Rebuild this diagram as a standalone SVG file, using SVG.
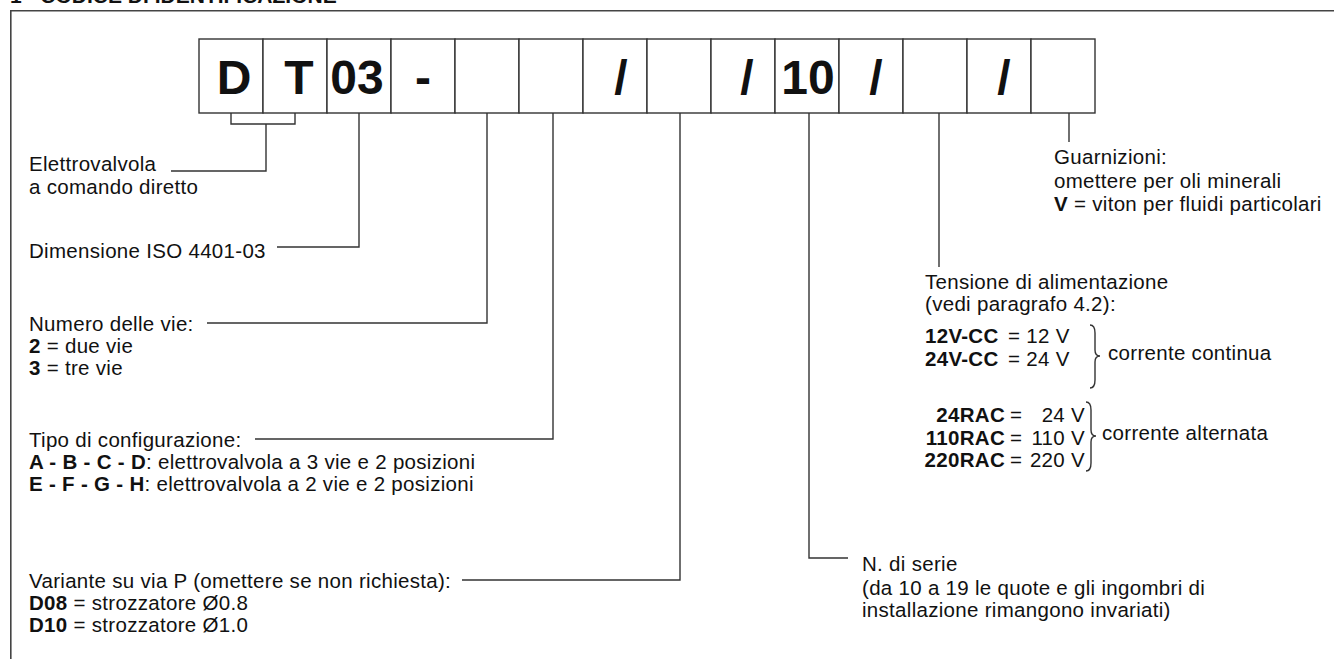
<svg xmlns="http://www.w3.org/2000/svg" width="1334" height="659" viewBox="0 0 1334 659">
<style>
text{font-family:"Liberation Sans",Arial,Helvetica,sans-serif;fill:#111}
.t{font-size:20.5px;letter-spacing:0.3px}
.b{font-weight:bold}
.big{font-size:48px;font-weight:bold;text-anchor:middle}
.e{text-anchor:end}
.ln{fill:none;stroke:#333;stroke-width:1.4}
.box{fill:#fff;stroke:#333;stroke-width:1.4}
.fr{fill:none;stroke:#444;stroke-width:1.6}
</style>
<rect width="1334" height="659" fill="#fff"/>
<text x="10" y="3" style="font-size:21px;font-weight:bold">1 - CODICE DI IDENTIFICAZIONE</text>
<path class="fr" d="M10.8,659 V10.8 H1334"/>

<g id="code">
<g id="box-D"><rect class="box" x="199" y="39" width="64" height="74"/><text class="big" x="234" y="94">D</text></g>
<g id="box-T"><rect class="box" x="263" y="39" width="64" height="74"/><text class="big" x="299" y="94">T</text></g>
<g id="box-03"><rect class="box" x="327" y="39" width="64" height="74"/><text class="big" x="357" y="94">03</text></g>
<g id="box-dash"><rect class="box" x="391" y="39" width="64" height="74"/><text class="big" x="423" y="94">-</text></g>
<g id="box-vie"><rect class="box" x="455" y="39" width="64" height="74"/></g>
<g id="box-config"><rect class="box" x="519" y="39" width="64" height="74"/></g>
<g id="box-slash1"><rect class="box" x="583" y="39" width="64" height="74"/><text class="big" x="621" y="94">/</text></g>
<g id="box-variante"><rect class="box" x="647" y="39" width="64" height="74"/></g>
<g id="box-slash2"><rect class="box" x="711" y="39" width="64" height="74"/><text class="big" x="747" y="94">/</text></g>
<g id="box-10"><rect class="box" x="775" y="39" width="64" height="74"/><text class="big" x="808" y="94">10</text></g>
<g id="box-slash3"><rect class="box" x="839" y="39" width="64" height="74"/><text class="big" x="876" y="94">/</text></g>
<g id="box-tensione"><rect class="box" x="903" y="39" width="64" height="74"/></g>
<g id="box-slash4"><rect class="box" x="967" y="39" width="64" height="74"/><text class="big" x="1004" y="94">/</text></g>
<g id="box-guarnizioni"><rect class="box" x="1031" y="39" width="64" height="74"/></g>
</g>

<g id="connectors">
<path class="ln" d="M231,113 V124 H295 V113 M266,124 V171 H171"/>
<path class="ln" d="M359,113 V247 H277"/>
<path class="ln" d="M487,113 V323 H207"/>
<path class="ln" d="M553,113 V439 H255"/>
<path class="ln" d="M680,113 V580 H462"/>
<path class="ln" d="M809,113 V558 H848"/>
<path class="ln" d="M939,113 V267"/>
<path class="ln" d="M1069,113 V142"/>
<path class="ln" d="M1090,325 Q1095,325 1095,333 V350 Q1095,356 1100,356 Q1095,356 1095,362 V380 Q1095,388 1090,388"/>
<path class="ln" d="M1086,402 Q1091,402 1091,410 V430 Q1091,436 1096,436 Q1091,436 1091,442 V463 Q1091,471 1086,471"/>
</g>

<g id="lbl-elettrovalvola">
<text class="t" x="29" y="171">Elettrovalvola</text>
<text class="t" x="29" y="194">a comando diretto</text>
</g>
<g id="lbl-dimensione">
<text class="t" x="29" y="258">Dimensione ISO 4401-03</text>
</g>
<g id="lbl-vie">
<text class="t" x="29" y="331">Numero delle vie:</text>
<text class="t" x="29" y="353"><tspan class="b">2</tspan> = due vie</text>
<text class="t" x="29" y="375"><tspan class="b">3</tspan> = tre vie</text>
</g>
<g id="lbl-config">
<text class="t" x="29" y="447">Tipo di configurazione:</text>
<text class="t" x="29" y="469"><tspan class="b">A - B - C - D</tspan>: elettrovalvola a 3 vie e 2 posizioni</text>
<text class="t" x="29" y="491"><tspan class="b">E - F - G - H</tspan>:  elettrovalvola a 2 vie e 2 posizioni</text>
</g>
<g id="lbl-variante">
<text class="t" x="29" y="588">Variante su via P (omettere se non richiesta):</text>
<text class="t" x="29" y="610"><tspan class="b">D08</tspan> = strozzatore Ø0.8</text>
<text class="t" x="29" y="632"><tspan class="b">D10</tspan> = strozzatore Ø1.0</text>
</g>
<g id="lbl-serie">
<text class="t" x="862" y="571">N. di serie</text>
<text class="t" x="862" y="595">(da 10 a 19 le quote e gli ingombri di</text>
<text class="t" x="862" y="617">installazione rimangono invariati)</text>
</g>
<g id="lbl-tensione">
<text class="t" x="925" y="289">Tensione di alimentazione</text>
<text class="t" x="925" y="311">(vedi paragrafo 4.2):</text>
<text class="t b" x="925" y="343">12V-CC</text><text class="t" x="1008" y="343">= 12 V</text>
<text class="t b" x="925" y="366">24V-CC</text><text class="t" x="1008" y="366">= 24 V</text>
<text class="t" x="1108" y="360">corrente continua</text>
<text class="t b e" x="1005" y="422">24RAC</text><text class="t" x="1010" y="422">=</text><text class="t e" x="1085" y="422">24 V</text>
<text class="t b e" x="1005" y="445">110RAC</text><text class="t" x="1010" y="445">=</text><text class="t e" x="1085" y="445">110 V</text>
<text class="t b e" x="1005" y="467">220RAC</text><text class="t" x="1010" y="467">=</text><text class="t e" x="1085" y="467">220 V</text>
<text class="t" x="1102" y="440">corrente alternata</text>
</g>
<g id="lbl-guarnizioni">
<text class="t" x="1054" y="164">Guarnizioni:</text>
<text class="t" x="1054" y="188">omettere per oli minerali</text>
<text class="t" x="1054" y="211"><tspan class="b">V</tspan> = viton per fluidi particolari</text>
</g>
</svg>
